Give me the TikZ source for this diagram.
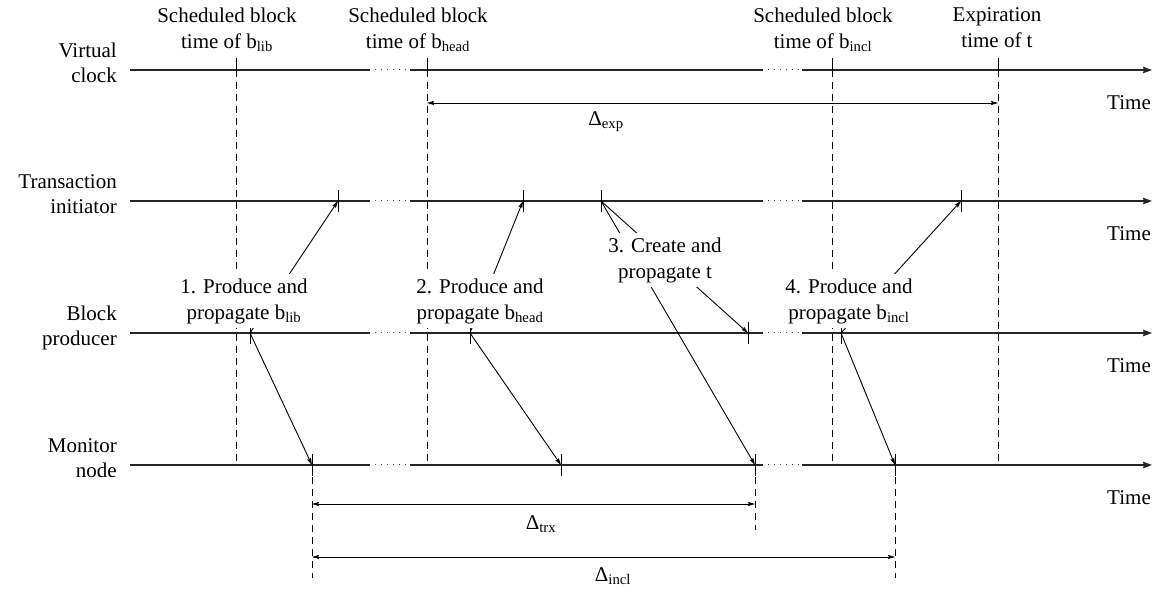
\documentclass[tikz,border=0pt]{standalone}
\usepackage{fontspec}
\setmainfont{Liberation Serif}
\usetikzlibrary{arrows.meta}
\begin{document}
\begin{tikzpicture}[x=1pt,y=-1pt,
  lbl/.style={font=\fontsize{21}{26}\selectfont, align=center, inner sep=0pt},
  lft/.style={font=\fontsize{21}{25}\selectfont, align=right, inner sep=0pt, anchor=east},
  axis/.style={line width=1.3pt, draw=black!85},
  axarrow/.style={axis, -{Stealth[length=9pt,width=6.5pt,inset=1pt]}},
  dotseg/.style={line width=1pt, dash pattern=on 1pt off 5pt, draw=black!70},
  tickmark/.style={line width=1pt},
  vdash/.style={line width=1pt, dash pattern=on 7pt off 5pt},
  msg/.style={line width=0.9pt, -{Stealth[length=7pt,width=4pt,inset=1pt]}},
  meas/.style={line width=0.9pt, {Stealth[length=7pt,width=4pt,inset=1pt]}-{Stealth[length=7pt,width=4pt,inset=1pt]}},
  msgbox/.style={lbl, fill=white, inner sep=4pt},
]
\useasboundingbox (0,0) rectangle (1160,593);

% time axes
\foreach \y in {70,201,333,465}{
  \draw[axis] (130,\y) -- (370,\y);
  \draw[dotseg] (375,\y) -- (407,\y);
  \draw[axis] (410,\y) -- (763,\y);
  \draw[dotseg] (768,\y) -- (800,\y);
  \draw[axarrow] (802,\y) -- (1152,\y);
}

% left labels
\node[lft] (lvc) at (117,63) {Virtual\\clock};
\node[lft] (lti) at (117,194) {Transaction\\initiator};
\node[lft] (lbp) at (117,328) {Block\\producer};
\node[lft] (lmn) at (117,458) {Monitor\\node};

% Time labels
\foreach \y/\n in {70/t1,201/t2,333/t3,465/t4}{
  \node[lbl, anchor=east] (\n) at (1151,\y+33) {Time};
}

% virtual clock coordinates
\coordinate (vA) at (236,70);
\coordinate (vB) at (427,70);
\coordinate (vC) at (832,70);
\coordinate (vD) at (998,70);
% transaction initiator
\coordinate (tA) at (338,201);
\coordinate (tB) at (523,201);
\coordinate (tC) at (601,201);
\coordinate (tD) at (961,201);
% block producer
\coordinate (bA) at (250,333);
\coordinate (bB) at (470,333);
\coordinate (bC) at (748,333);
\coordinate (bD) at (841,333);
% monitor node
\coordinate (mA) at (312,465);
\coordinate (mB) at (561,465);
\coordinate (mC) at (755,465);
\coordinate (mD) at (895,465);

% scheduled verticals
\foreach \c in {vA,vB,vC,vD}{
  \draw[tickmark] (\c) -- ++(0,-12);
  \draw[vdash] (\c) -- (\c |- mA);
}
% ticks
\foreach \c in {tA,tB,tC,tD}{ \draw[tickmark] ([yshift=11pt]\c) -- ([yshift=-11pt]\c); }
\foreach \c in {bA,bB,bC,bD}{ \draw[tickmark] ([yshift=11pt]\c) -- ([yshift=-11pt]\c); }
\foreach \c in {mA,mB,mC,mD}{ \draw[tickmark] ([yshift=11pt]\c) -- ([yshift=-11pt]\c); }

% dashed below monitor
\coordinate (dA) at (312,578);
\coordinate (dC) at (755,530);
\coordinate (dD) at (895,578);
\draw[vdash] (mA) -- (dA);
\draw[vdash] (mC) -- (dC);
\draw[vdash] (mD) -- (dD);

% messages
\draw[msg] (bA) -- (tA);
\draw[msg] (bA) -- (mA);
\draw[msg] (bB) -- (tB);
\draw[msg] (bB) -- (mB);
\draw[msg] (tC) -- (mC);
\draw[msg] (tC) -- (bC);
\draw[msg] (bD) -- (tD);
\draw[msg] (bD) -- (mD);

% measurements
\coordinate (eL) at (427,103);
\coordinate (eR) at (998,103);
\draw[meas] (eL) -- (eR);
\coordinate (xL) at (312,504);
\coordinate (xR) at (755,504);
\draw[meas] (xL) -- (xR);
\coordinate (iL) at (312,557);
\coordinate (iR) at (895,557);
\draw[meas] (iL) -- (iR);
\node[lbl] (dexp) at (606,122) {Δ\textsubscript{exp}};
\node[lbl] (dtrx) at (541,524) {Δ\textsubscript{trx}};
\node[lbl] (dincl) at (613,576) {Δ\textsubscript{incl}};

% top labels
\node[lbl] (sA) at (227,30) {Scheduled block\\time of b\textsubscript{lib}};
\node[lbl] (sB) at (418,30) {Scheduled block\\time of b\textsubscript{head}};
\node[lbl] (sC) at (823,30) {Scheduled block\\time of b\textsubscript{incl}};
\node[lbl] (sD) at (997,28) {Expiration\\time of t};

% message labels
\node[msgbox] (m1) at (244,301) {1. Produce and\\propagate b\textsubscript{lib}};
\node[msgbox] (m2) at (480,301) {2. Produce and\\propagate b\textsubscript{head}};
\node[msgbox] (m3) at (665,260) {3. Create and\\propagate t};
\node[msgbox] (m4) at (849,301) {4. Produce and\\propagate b\textsubscript{incl}};
\end{tikzpicture}
\end{document}
